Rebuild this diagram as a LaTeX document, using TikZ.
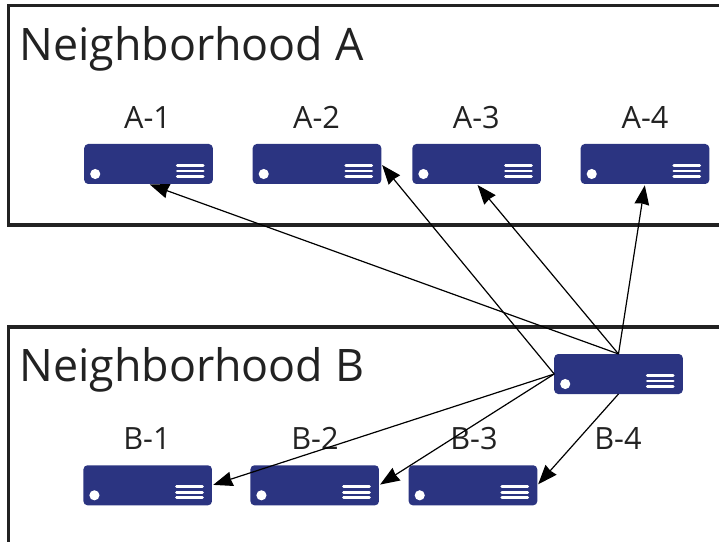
\documentclass[tikz,border=0pt]{standalone}
\usepackage{fontspec}
\setmainfont{Open Sans}
\usepackage{tikz}
\usetikzlibrary{positioning}
\usetikzlibrary{arrows.meta}
\definecolor{serverblue}{HTML}{2B3481}
\definecolor{framegray}{HTML}{222222}

\begin{document}
\begin{tikzpicture}[
						x=0.75pt, y=-0.75pt,
						servernode/.style={rectangle, fill=serverblue, rounded corners=3pt, minimum width=96.4pt, minimum height=30pt, inner sep=0pt, outer sep=0pt,
							path picture={
								\fill[white] ([shift={(11,-10)}]path picture bounding box.south west) circle (3.8pt);
								\draw[white, line width=2pt, line cap=round] ([shift={(-35.5,21.5)}]path picture bounding box.north east) -- ([shift={(-9.5,21.5)}]path picture bounding box.north east);
								\draw[white, line width=2pt, line cap=round] ([shift={(-35.5,27)}]path picture bounding box.north east) -- ([shift={(-9.5,27)}]path picture bounding box.north east);
								\draw[white, line width=2pt, line cap=round] ([shift={(-35.5,32.5)}]path picture bounding box.north east) -- ([shift={(-9.5,32.5)}]path picture bounding box.north east);
							}},
						titlenode/.style={anchor=base west, inner sep=0pt, text=framegray, font=\fontsize{33.6}{40}\selectfont},
						labelnode/.style={anchor=base, inner sep=0pt, text=framegray, font=\fontsize{23}{28}\selectfont},
						framebox/.style={draw=framegray, line width=2.5pt},
						link/.style={draw=black, line width=0.9pt, -{Stealth[length=14.5pt, width=11pt, inset=0.8pt]}, shorten >=1pt},
						]
						\useasboundingbox (0,0) rectangle (719,542);

						%Frames
						\draw[framebox] (719,5.5) -- (8.5,5.5) -- (8.5,225) -- (719,225);
						\draw[framebox] (719,327) -- (8.5,327) -- (8.5,542);

						%Nodes
						\node[titlenode]      (titleA) 	at 	(19,60.5)        {Neighborhood A};
						\node[titlenode]      (titleB) 	at 	(19,382)         {Neighborhood B};

						\node[servernode]     (a1) 	at 	(148.5,164)      {};
						\node[servernode]     (a2) 	at 	(317,164)        {};
						\node[servernode]     (a3) 	at 	(476.7,164)      {};
						\node[servernode]     (a4) 	at 	(645,164)        {};
						\node[servernode]     (b1) 	at 	(147.7,485.3)    {};
						\node[servernode]     (b2) 	at 	(314.7,485.3)    {};
						\node[servernode]     (b3) 	at 	(473,485.3)      {};
						\node[servernode]     (b4) 	at 	(618.5,374)      {};

						\node[labelnode]      (labelA1) at 	(147.5,128.5)    {A-1};
						\node[labelnode]      (labelA2) at 	(316.5,128.5)    {A-2};
						\node[labelnode]      (labelA3) at 	(476.3,128.5)    {A-3};
						\node[labelnode]      (labelA4) at 	(645,128.5)      {A-4};
						\node[labelnode]      (labelB1) at 	(147,449.5)      {B-1};
						\node[labelnode]      (labelB2) at 	(315,449.5)      {B-2};
						\node[labelnode]      (labelB3) at 	(474,449.5)      {B-3};
						\node[labelnode]      (labelB4) at 	(618,449.5)      {B-4};

						%Lines
						\draw[link] (b4.north) -- (a1.south);
						\draw[link] (b4.west) -- (a2.east);
						\draw[link] (b4.north) -- (a3.south);
						\draw[link] (b4.north) -- (a4.south);

						\draw[link] (b4.west) -- (b1.east);
						\draw[link] (b4.west) -- (b2.east);
						\draw[link] (b4.south) -- (b3.east);
					\end{tikzpicture}
\end{document}
